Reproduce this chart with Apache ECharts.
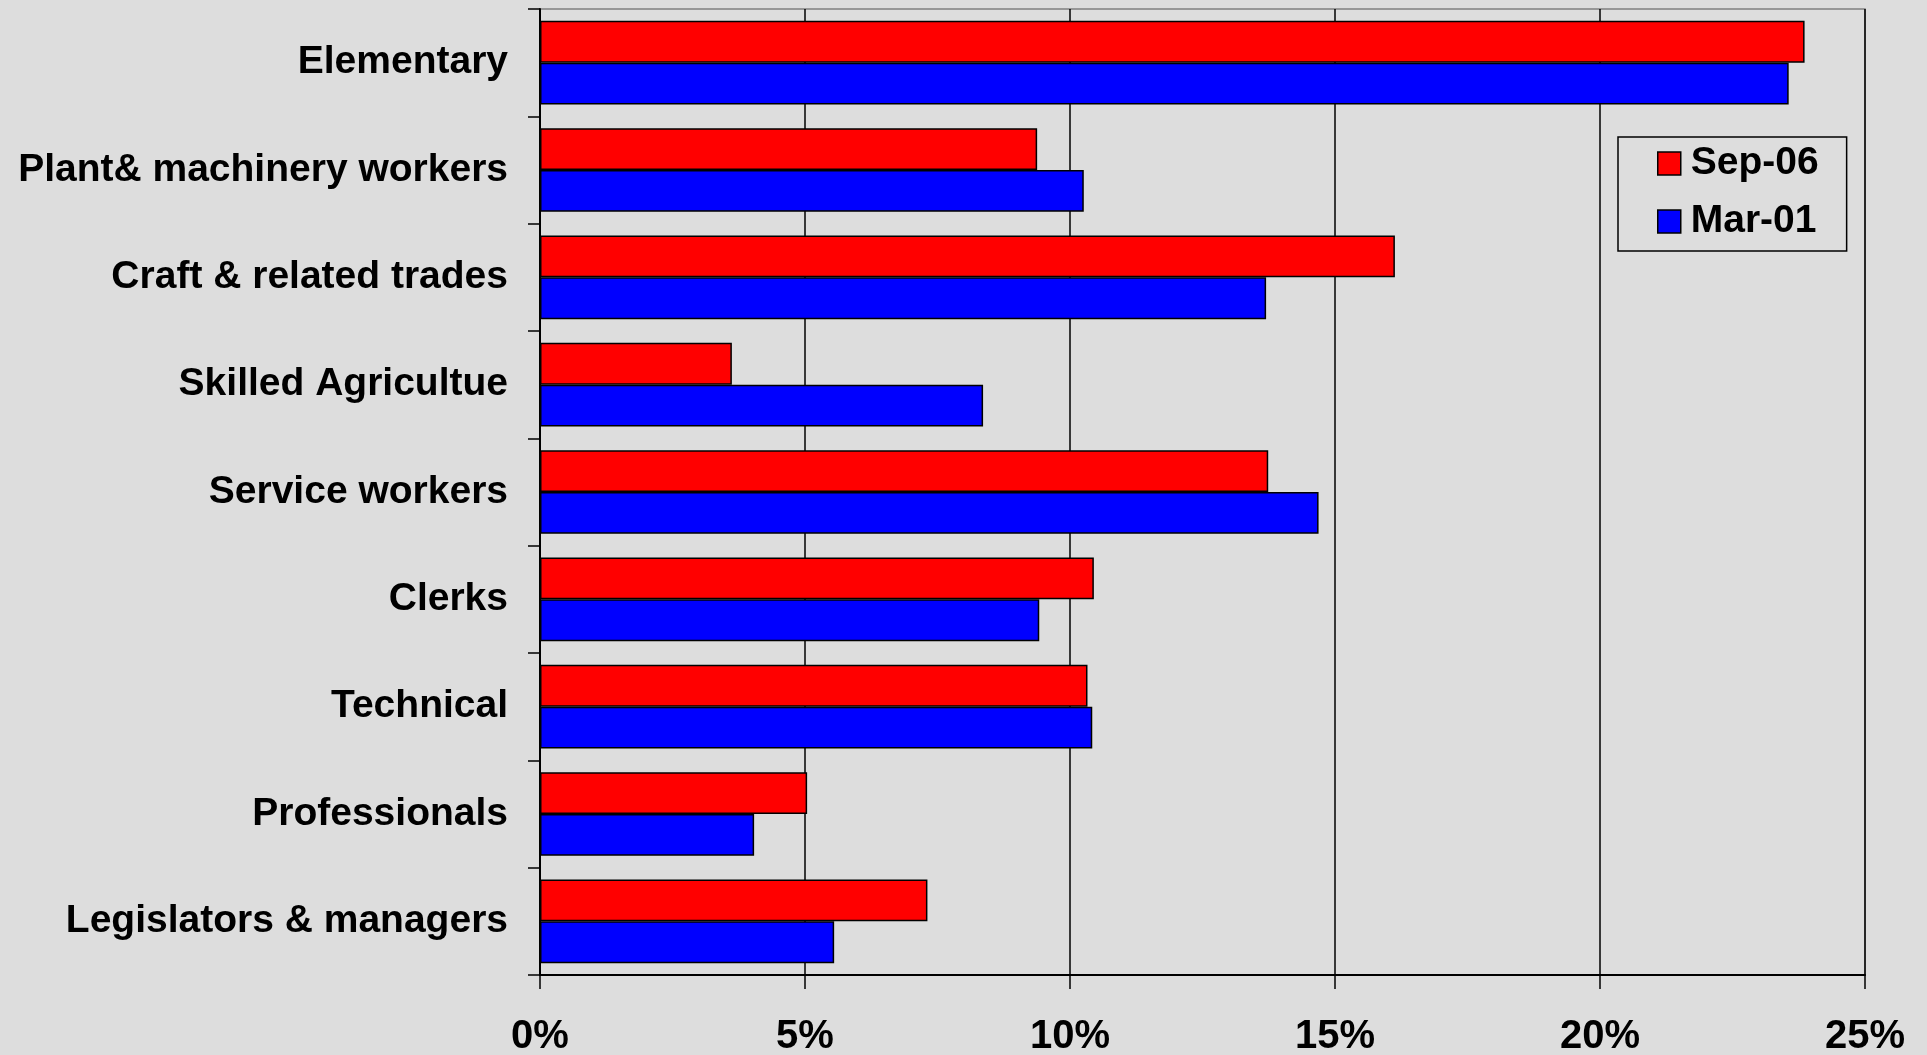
<!DOCTYPE html>
<html>
<head>
<meta charset="utf-8">
<script src="https://cdn.jsdelivr.net/npm/echarts@6/dist/echarts.min.js"></script>
<style>
html,body{margin:0;padding:0;background:#DDDDDD;}
#chart{width:1927px;height:1055px;}
</style>
</head>
<body>
<div id="chart"></div>
<script>
const categories = ["Elementary", "Plant& machinery workers", "Craft & related trades", "Skilled Agricultue", "Service workers", "Clerks", "Technical", "Professionals", "Legislators & managers"];
const seriesNames = ["Sep-06", "Mar-01"];
const sep06 = [23.86, 9.38, 16.13, 3.62, 13.74, 10.45, 10.33, 5.04, 7.31];
const mar01 = [23.56, 10.26, 13.70, 8.36, 14.69, 9.42, 10.42, 4.04, 5.55];
const xTicks = [0, 5, 10, 15, 20, 25];

const chart = echarts.init(document.getElementById('chart'));
const barStyle = (c) => ({ color: c, borderColor: '#000', borderWidth: 1.5 });
chart.setOption({
  backgroundColor: '#DDDDDD',
  animation: false,
  grid: { left: 540, right: 62, top: 9, bottom: 80, show: true, borderColor: '#808080', borderWidth: 1.5, backgroundColor: '#DDDDDD', outerBoundsMode: 'none', containLabel: false },
  legend: {
    orient: 'vertical', left: 1618, top: 137,
    width: 226,
    data: seriesNames,
    icon: 'rect',
    backgroundColor: '#DDDDDD', borderColor: '#000', borderWidth: 1.5,
    padding: [7, 28, 10, 39],
    itemWidth: 23, itemHeight: 23, itemGap: 19,
    itemStyle: { borderColor: '#000', borderWidth: 1.5 },
    textStyle: { fontFamily: 'Liberation Sans, Arial, sans-serif', fontWeight: 'bold', fontSize: 39, color: '#000', padding: [0, 0, 0, 5] }
  },
  xAxis: {
    type: 'value', min: xTicks[0], max: xTicks[xTicks.length - 1], interval: 5,
    axisLine: { show: true, lineStyle: { color: '#000', width: 2 } },
    axisTick: { show: true, length: 14, lineStyle: { color: '#000', width: 1.5 } },
    splitLine: { show: true, lineStyle: { color: '#000', width: 1.5 } },
    axisLabel: {
      formatter: v => v + '%', margin: 42,
      fontFamily: 'Liberation Sans, Arial, sans-serif',
      fontWeight: 'bold', fontSize: 40, color: '#000'
    }
  },
  yAxis: {
    type: 'category', data: categories, inverse: true,
    axisLine: { show: true, lineStyle: { color: '#000', width: 2 } },
    axisTick: { show: true, length: 12, lineStyle: { color: '#000', width: 1.5 } },
    axisLabel: { margin: 32, fontFamily: 'Liberation Sans, Arial, sans-serif', fontWeight: 'bold', fontSize: 39, color: '#000' }
  },
  series: [
    { name: seriesNames[0], type: 'bar', data: sep06, barGap: '0%', barCategoryGap: '22%', itemStyle: barStyle('#FF0000') },
    { name: seriesNames[1], type: 'bar', data: mar01, barGap: '0%', barCategoryGap: '22%', itemStyle: barStyle('#0000FF') }
  ]
});
</script>
</body>
</html>
